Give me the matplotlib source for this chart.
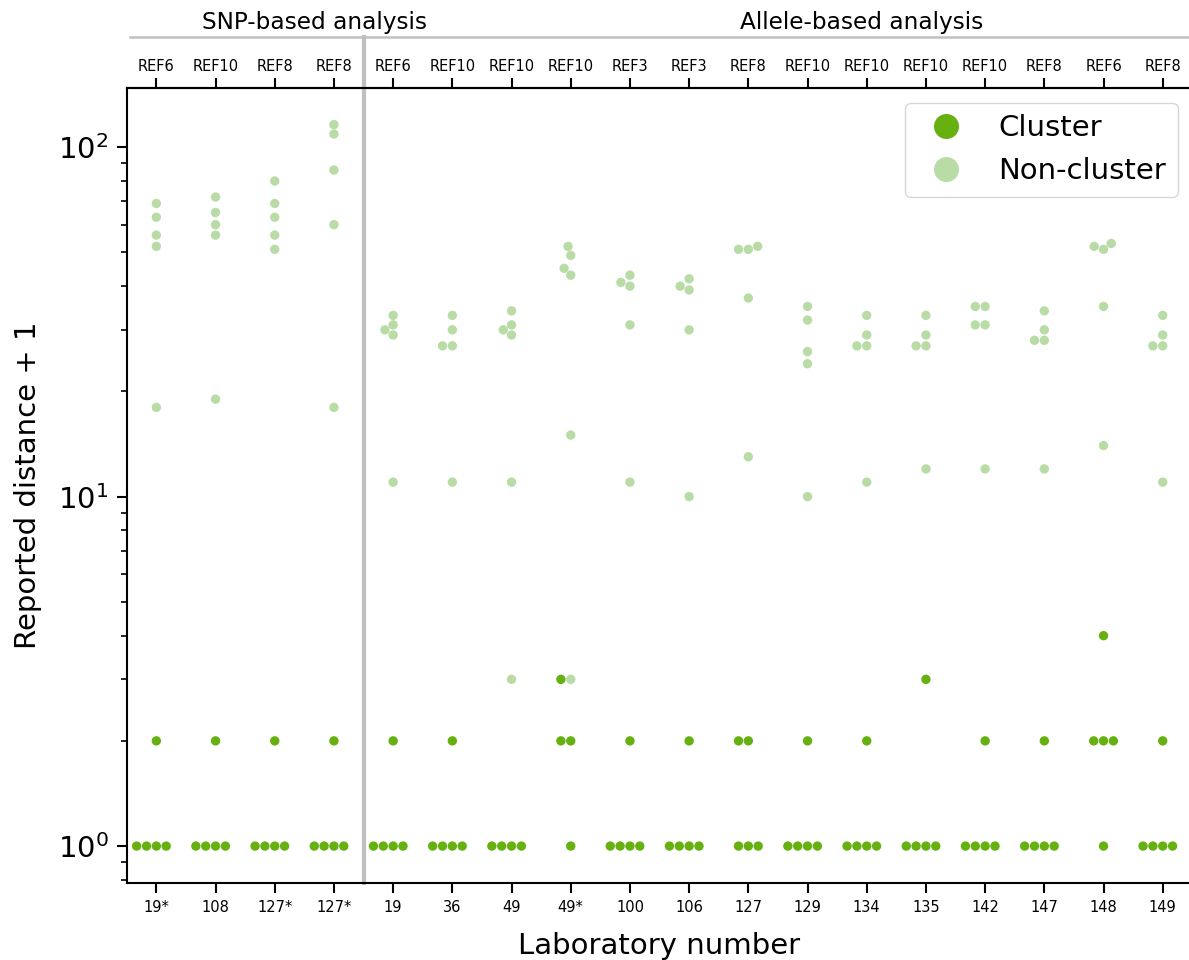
import numpy as np
import pandas as pd
import matplotlib
matplotlib.use("Agg")
import matplotlib.pyplot as plt
from matplotlib.lines import Line2D
import seaborn as sns

# Laboratories (bottom axis) and the reference used by each (top axis)
labs = ["19*", "108", "127*", "127*", "19", "36", "49", "49*", "100",
        "106", "127", "129", "134", "135", "142", "147", "148", "149"]
refs = ["REF6", "REF10", "REF8", "REF8", "REF6", "REF10", "REF10", "REF10", "REF3",
        "REF3", "REF8", "REF10", "REF10", "REF10", "REF10", "REF8", "REF6", "REF8"]

# Reported distance + 1, per laboratory
non_cluster = [
    [18, 52, 56, 63, 69],
    [19, 56, 60, 65, 72],
    [51, 56, 63, 69, 80],
    [18, 60, 86, 109, 116],
    [11, 29, 30, 31, 33],
    [11, 27, 27, 30, 33],
    [3, 11, 29, 30, 31, 34],
    [3, 15, 43, 45, 49, 52],
    [11, 31, 40, 41, 43],
    [10, 30, 39, 40, 42],
    [13, 37, 51, 51, 52],
    [10, 24, 26, 32, 35],
    [11, 27, 27, 29, 33],
    [12, 27, 27, 29, 33],
    [12, 31, 31, 35, 35],
    [12, 28, 28, 30, 34],
    [14, 35, 51, 52, 53],
    [11, 27, 27, 29, 33],
]
cluster = [
    [1, 1, 1, 1, 2],
    [1, 1, 1, 1, 2],
    [1, 1, 1, 1, 2],
    [1, 1, 1, 1, 2],
    [1, 1, 1, 1, 2],
    [1, 1, 1, 1, 2],
    [1, 1, 1, 1],
    [1, 2, 2, 3],
    [1, 1, 1, 1, 2],
    [1, 1, 1, 1, 2],
    [1, 1, 1, 2, 2],
    [1, 1, 1, 1, 2],
    [1, 1, 1, 1, 2],
    [1, 1, 1, 1, 3],
    [1, 1, 1, 1, 2],
    [1, 1, 1, 1, 2],
    [1, 2, 2, 2, 4],
    [1, 1, 1, 1, 2],
]

n_snp = 4  # first four labs used SNP-based analysis

rows = []
for i in range(len(labs)):
    for v in non_cluster[i]:
        rows.append((i, v, "Non-cluster"))
    for v in cluster[i]:
        rows.append((i, v, "Cluster"))
df = pd.DataFrame(rows, columns=["lab", "dist", "status"])

colors = {"Cluster": "#66b010", "Non-cluster": "#b9dca7"}

fig = plt.figure(figsize=(11.89, 9.6), dpi=100)
ax = fig.add_axes([0.1066, 0.0802, 0.8962, 0.828])
ax.set_yscale("log")

sns.swarmplot(data=df, x="lab", y="dist", hue="status", order=list(range(len(labs))),
              hue_order=["Cluster", "Non-cluster"], palette=colors, size=6.75,
              legend=False, ax=ax)

ax.set_xlim(-0.5, len(labs) - 0.5)
ax.set_ylim(0.784, 147.5)

ax.set_xticks(range(len(labs)), labels=labs)
ax.tick_params(axis="x", labelsize=10.5, length=7, width=1.5, pad=5.5)
ax.tick_params(axis="y", which="major", labelsize=21, length=7, width=1.5, pad=6)
ax.tick_params(axis="y", which="minor", length=4, width=1.2)
for sp in ax.spines.values():
    sp.set_linewidth(1.5)

top = ax.secondary_xaxis("top")
top.set_xticks(range(len(labs)), labels=refs)
top.tick_params(labelsize=10.5, length=7, width=1.5)
top.spines["top"].set_linewidth(1.5)

ax.set_xlabel("Laboratory number", fontsize=21, labelpad=12)
ax.set_ylabel("Reported distance + 1", fontsize=21, labelpad=11)

# group headers above the reference row
tr = ax.get_xaxis_transform()
ax.plot([-0.45, len(labs) - 0.5], [1.064, 1.064], transform=tr, clip_on=False,
        color="#c0c0c0", lw=1.8)
ax.plot([n_snp - 0.5, n_snp - 0.5], [0, 1.064], transform=tr, clip_on=False,
        color="#c0c0c0", lw=3)
ax.text(2.67, 1.083, "SNP-based analysis", transform=tr, ha="center", va="center",
        fontsize=16.7)
ax.text(11.92, 1.083, "Allele-based analysis", transform=tr, ha="center", va="center",
        fontsize=16.7)

handles = [Line2D([], [], ls="", marker="o", markersize=18, markeredgewidth=0,
                  color=colors[k]) for k in ["Cluster", "Non-cluster"]]
ax.legend(handles, ["Cluster", "Non-cluster"], loc="upper right", fontsize=21)

fig.savefig("out.png", dpi=100)
